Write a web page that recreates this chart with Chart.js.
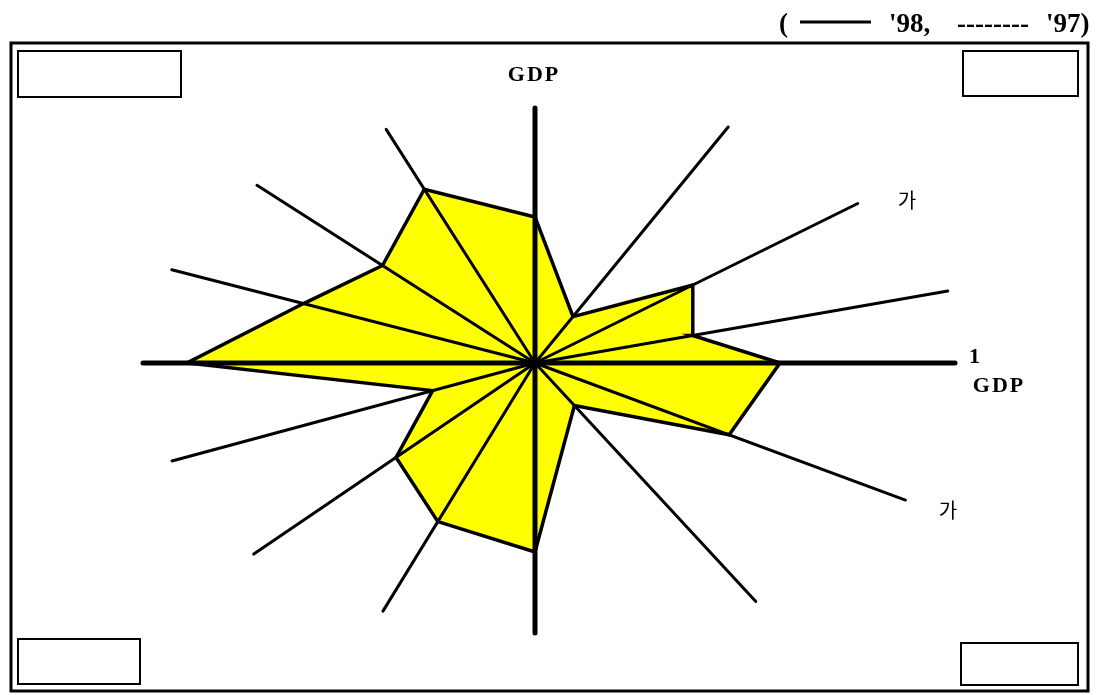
<!DOCTYPE html>
<html>
<head>
<meta charset="utf-8">
<script src="https://cdn.jsdelivr.net/npm/chart.js@4.4.0/dist/chart.umd.min.js"></script>
<style>
html, body { margin: 0; padding: 0; background: #fff; }
#wrap { position: relative; width: 1099px; height: 695px; }
</style>
</head>
<body>
<div id="wrap"><canvas id="chart"></canvas></div>
<script>
// spoke directions in degrees (0 = right, counter-clockwise)
var spokeAngles = [0, 9.9, 26.3, 50.7, 90, 122.5, 147.4, 165.6, 180, 195.1, 214.2, 238.5, 270, 312.8, 339.7];
var spokeLengths = [4.20, 4.19, 3.60, 3.05, 2.55, 2.77, 3.30, 3.75, 3.92, 3.76, 3.40, 2.91, 2.70, 3.25, 3.95];
var mainAxes = [0, 90, 180, 270];
// '98 values along each spoke
var values98 = [2.45, 1.60, 1.76, 0.60, 1.46, 2.06, 1.81, 2.39, 3.48, 1.06, 1.68, 1.86, 1.89, 0.58, 2.07];

function polar(angle, r) {
    var a = angle * Math.PI / 180;
    return { x: r * Math.cos(a), y: r * Math.sin(a) };
}

var datasets = [];

spokeAngles.forEach(function(angle, i) {
    var isMain = mainAxes.indexOf(angle) >= 0;
    datasets.push({
        data: [{ x: 0, y: 0 }, polar(angle, spokeLengths[i])],
        showLine: true,
        borderColor: '#000',
        borderWidth: isMain ? 5 : 3,
        borderCapStyle: 'round',
        pointRadius: 0,
        fill: false,
        order: 0
    });
});

var shape = values98.map(function(v, i) { return polar(spokeAngles[i], v); });
shape.push(shape[0]);
datasets.push({
    label: "'98",
    data: shape,
    showLine: true,
    borderColor: '#000',
    borderWidth: 3.5,
    borderJoinStyle: 'miter',
    backgroundColor: '#ffff00',
    pointRadius: 0,
    tension: 0,
    fill: 'shape',
    order: 1
});

var frame = {
    id: 'frame',
    afterDraw: function(chart) {
        var ctx = chart.ctx;
        ctx.save();
        ctx.strokeStyle = '#000';
        ctx.lineWidth = 3;
        ctx.strokeRect(11, 43, 1077, 648);
        ctx.lineWidth = 2;
        ctx.strokeRect(18, 51, 163, 46);
        ctx.strokeRect(963, 51, 115, 45);
        ctx.strokeRect(18, 639, 122, 45);
        ctx.strokeRect(961, 643, 117, 42);

        // legend line
        ctx.fillStyle = '#000';
        ctx.font = 'bold 27px "Liberation Serif"';
        ctx.textBaseline = 'alphabetic';
        ctx.textAlign = 'left';
        ctx.fillText('(', 779, 32);
        ctx.fillText("'98,", 889, 32);
        ctx.fillText('--------', 957, 32);
        ctx.fillText("'97)", 1046, 32);
        ctx.lineWidth = 3;
        ctx.beginPath();
        ctx.moveTo(800, 22);
        ctx.lineTo(871, 22);
        ctx.stroke();

        // axis titles
        ctx.font = 'bold 22px "Liberation Serif"';
        ctx.letterSpacing = '2px';
        ctx.textAlign = 'center';
        ctx.fillText('GDP', 534, 81);
        ctx.fillText('GDP', 999, 392);
        ctx.letterSpacing = '0px';
        ctx.textAlign = 'left';
        ctx.fillText('1', 969, 363);

        ctx.font = '20px "Noto Sans CJK KR"';
        ctx.textAlign = 'center';
        ctx.fillText('가', 907, 208);
        ctx.fillText('가', 948, 518);
        ctx.restore();
    }
};

new Chart(document.getElementById('chart').getContext('2d'), {
    type: 'scatter',
    data: { datasets: datasets },
    options: {
        responsive: true,
        maintainAspectRatio: false,
        animation: false,
        layout: { padding: 0 },
        plugins: { legend: { display: false }, tooltip: { enabled: false } },
        scales: {
            x: { type: 'linear', display: false, min: -5.35, max: 5.64 },
            y: { type: 'linear', display: false, min: -3.32, max: 3.63 }
        }
    },
    plugins: [frame]
});
</script>
</body>
</html>
